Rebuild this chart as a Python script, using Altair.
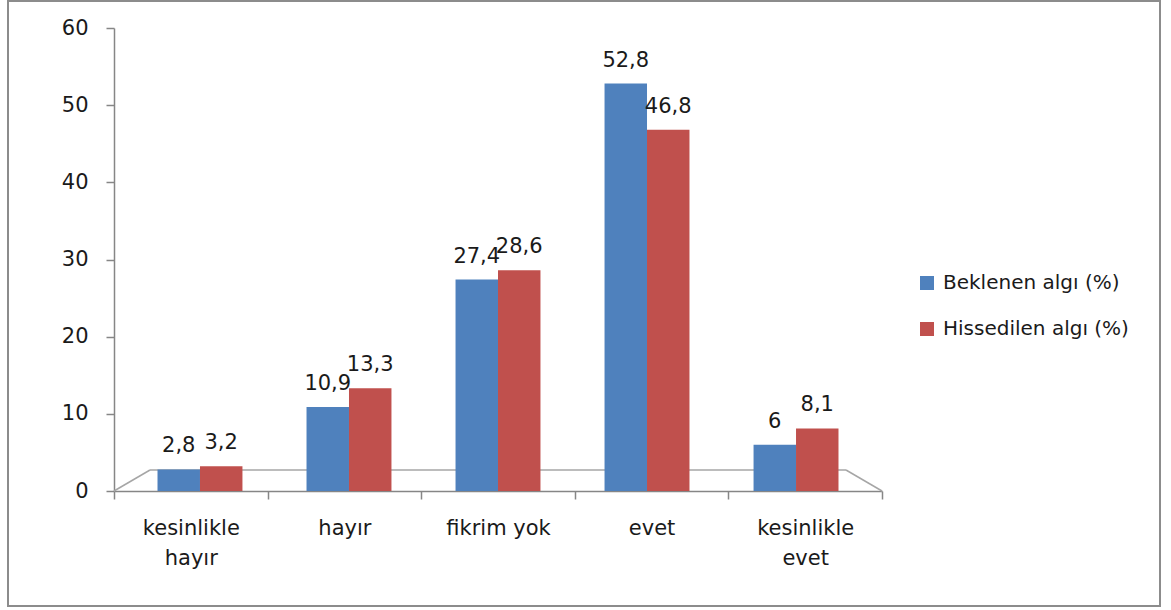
import altair as alt
import pandas as pd

categories = ["kesinlikle hayır", "hayır", "fikrim yok", "evet", "kesinlikle evet"]
series_names = ["Beklenen algı (%)", "Hissedilen algı (%)"]
beklenen = [2.8, 10.9, 27.4, 52.8, 6]
hissedilen = [3.2, 13.3, 28.6, 46.8, 8.1]
colors = ["#4F81BD", "#C0504D"]

rows = []
for s, vals in zip(series_names, [beklenen, hissedilen]):
    for c, v in zip(categories, vals):
        rows.append({"kategori": c, "seri": s, "deger": v,
                     "etiket": f"{v:g}".replace(".", ",")})
df = pd.DataFrame(rows)

FONT = "DejaVu Sans"
TXT = "#1a1a1a"
GRAY = "#868686"

yscale = alt.Scale(domain=[0, 60])
yaxis = alt.Axis(title=None, values=[0, 10, 20, 30, 40, 50, 60], grid=False, labelPadding=18)
base = alt.Chart(df)

# axis carrier layer (invisible), equal bands
axis_layer = base.mark_point(opacity=0).encode(
    x=alt.X("kategori:N", sort=categories,
            scale=alt.Scale(paddingInner=0, paddingOuter=0),
            axis=alt.Axis(title=None, labelAngle=0, tickBand="extent",
                          labelExpr="datum.label == 'fikrim yok' ? datum.label : split(datum.label, ' ')",
                          labelLineHeight=30, labelPadding=18)),
    y=alt.Y("deger:Q", scale=yscale, axis=yaxis),
)

xbar = alt.X("kategori:N", sort=categories,
             scale=alt.Scale(paddingInner=0.43, paddingOuter=0.292), axis=None)
xoff = alt.XOffset("seri:N", sort=series_names)

bars = base.mark_bar().encode(
    x=xbar, xOffset=xoff,
    y=alt.Y("deger:Q", scale=yscale, axis=yaxis),
    color=alt.Color("seri:N", sort=series_names,
                    scale=alt.Scale(domain=series_names, range=colors),
                    legend=alt.Legend(title=None, orient="none", legendX=803, legendY=245,
                                      symbolType="square", symbolSize=196,
                                      symbolStrokeWidth=0, labelFontSize=20,
                                      labelFont=FONT, labelColor=TXT, rowPadding=26,
                                      labelOffset=6, labelLimit=400)),
)

labels = base.mark_text(baseline="bottom", dy=-13, font=FONT, fontSize=21, color=TXT).encode(
    x=xbar, xOffset=xoff,
    y=alt.Y("deger:Q", scale=yscale, axis=yaxis),
    text="etiket:N",
)

one = pd.DataFrame({"a": [0]})
frame = alt.Chart(one).mark_rect(
    fill=None, stroke="#8c8c8c", strokeWidth=2
).encode(x=alt.value(-106), x2=alt.value(1046), y=alt.value(-27), y2=alt.value(578))

floor_col = "#a6a6a6"
floor_back = alt.Chart(one).mark_rule(color=floor_col, strokeWidth=1.5).encode(
    x=alt.value(36), x2=alt.value(732), y=alt.value(442), y2=alt.value(442))
floor_left = alt.Chart(one).mark_rule(color=floor_col, strokeWidth=1.5).encode(
    x=alt.value(0), x2=alt.value(36), y=alt.value(463), y2=alt.value(442))
floor_right = alt.Chart(one).mark_rule(color=floor_col, strokeWidth=1.5).encode(
    x=alt.value(732), x2=alt.value(768), y=alt.value(442), y2=alt.value(463))

chart = alt.layer(
    frame, floor_back, floor_left, floor_right, axis_layer, alt.layer(bars, labels)
).resolve_scale(x="independent").properties(
    width=768, height=463,
    autosize=alt.AutoSizeParams(type="none"),
    padding={"left": 114, "top": 28, "right": 289, "bottom": 119},
    background="white",
).configure_view(stroke=None).configure_axis(
    domainColor=GRAY, domainWidth=1.5, tickColor=GRAY, tickWidth=1.5, tickSize=8,
    labelFont=FONT, labelFontSize=21, labelColor=TXT,
)

chart.save("out.html", embed_options={"renderer": "svg", "actions": False})
